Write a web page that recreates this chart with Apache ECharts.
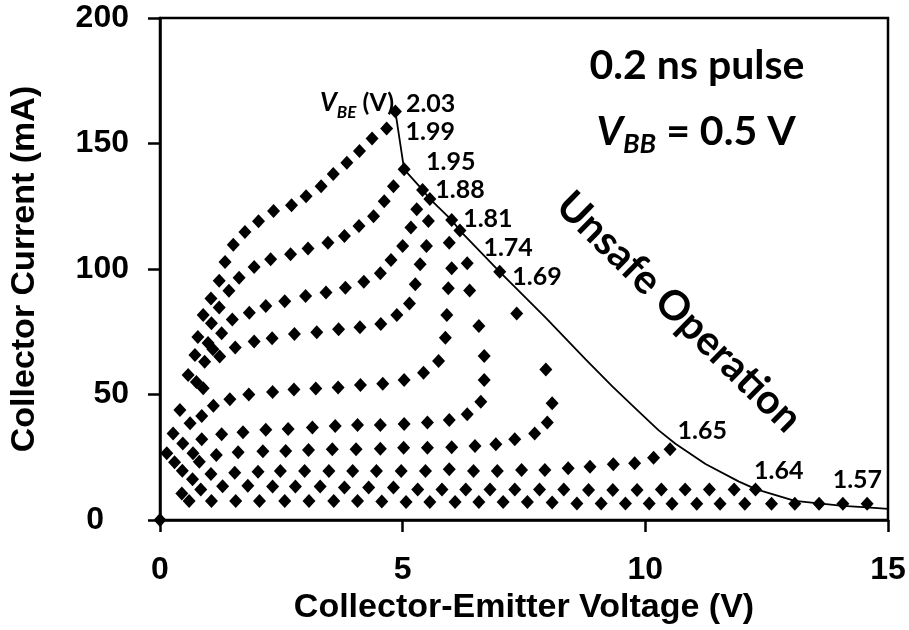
<!DOCTYPE html>
<html>
<head>
<meta charset="utf-8">
<script src="https://cdn.jsdelivr.net/npm/echarts/dist/echarts.min.js"></script>
<style>
  html, body { margin: 0; padding: 0; background: #fff; }
  #chart { width: 909px; height: 630px; }
</style>
</head>
<body>
<div id="chart"></div>
<script>
// Axis ticks
const xTicks = [0, 5, 10, 15];
const yTicks = [0, 50, 100, 150, 200];

// Base-emitter bias of each pulsed I-V curve (V)
const vbeLabels = ['2.03', '1.99', '1.95', '1.88', '1.81', '1.74', '1.69', '1.65', '1.64', '1.57'];

// Collector-emitter voltage (V) and collector current (mA), one pair per bias
const vce203 = [0.72, 0.78, 0.89, 1.05, 1.22, 1.34, 1.51, 1.75, 2.03, 2.34, 2.71, 3.01, 3.32, 3.57, 3.85, 4.11, 4.37, 4.67, 4.85];
const ic203  = [65.7, 72.9, 81.7, 88.2, 95.3, 102.8, 109.7, 114.7, 119.0, 123.1, 125.4, 129.0, 133.0, 137.8, 142.3, 147.0, 152.0, 156.0, 162.7];

const vce199 = [0.92, 0.99, 1.06, 1.22, 1.42, 1.63, 1.94, 2.28, 2.69, 3.05, 3.46, 3.80, 4.10, 4.40, 4.62, 4.81, 5.03];
const ic199  = [63.0, 70.5, 78.4, 84.7, 91.3, 96.5, 100.8, 103.9, 105.9, 108.2, 110.5, 113.1, 117.1, 121.0, 127.0, 133.0, 139.7];

const vce195 = [1.27, 1.49, 1.84, 2.18, 2.57, 3.00, 3.42, 3.82, 4.20, 4.54, 4.76, 5.00, 5.17, 5.29, 5.41];
const ic195  = [74.4, 79.9, 82.6, 85.3, 87.2, 89.2, 90.6, 92.5, 94.9, 98.3, 103.6, 109.2, 116.5, 123.8, 131.5];

const vce188 = [1.09, 1.23, 1.55, 1.94, 2.31, 2.77, 3.23, 3.68, 4.12, 4.55, 4.88, 5.14, 5.26, 5.36, 5.49, 5.53, 5.56];
const ic188  = [68.0, 65.1, 68.7, 71.1, 72.4, 74.1, 74.8, 76.0, 76.8, 78.1, 81.7, 86.3, 93.9, 101.9, 109.2, 119.1, 127.9];

const vce181 = [0.58, 0.75, 0.89, 1.10, 1.44, 1.83, 2.32, 2.76, 3.21, 3.67, 4.13, 4.59, 5.03, 5.43, 5.74, 5.88, 5.91, 5.94, 6.01, 5.96, 6.01];
const ic181  = [57.8, 55.0, 52.5, 45.5, 48.1, 50.0, 51.0, 52.0, 52.4, 52.8, 53.8, 54.3, 55.8, 58.7, 63.3, 72.6, 81.7, 92.3, 100.3, 110.5, 119.5];

const vce174 = [0.41, 0.62, 0.86, 0.86, 1.27, 1.71, 2.18, 2.64, 3.14, 3.61, 4.07, 4.54, 5.03, 5.51, 5.96, 6.33, 6.61, 6.68, 6.68, 6.57, 6.38, 6.33, 6.18];
const ic174  = [43.8, 38.5, 41.4, 32.2, 34.2, 35.0, 36.0, 36.3, 36.9, 37.5, 37.8, 37.8, 38.2, 38.8, 39.8, 42.1, 47.1, 55.8, 65.3, 77.3, 91.4, 102.3, 115.3];

const vce169 = [0.27, 0.47, 0.68, 0.81, 1.16, 1.61, 2.12, 2.59, 3.06, 3.55, 4.04, 4.54, 5.02, 5.51, 6.01, 6.49, 6.92, 7.31, 7.72, 7.98, 8.08, 7.95, 7.35, 7.00];
const ic169  = [34.5, 30.5, 26.6, 23.2, 25.9, 27.0, 27.4, 27.5, 27.9, 28.2, 28.2, 28.4, 28.8, 28.8, 29.0, 29.5, 30.2, 32.2, 34.5, 38.8, 46.5, 60.0, 82.3, 98.9];

const vce165 = [0.14, 0.30, 0.46, 1.05, 1.54, 2.02, 2.48, 2.98, 3.48, 3.97, 4.46, 4.97, 5.47, 5.96, 6.46, 6.95, 7.45, 7.93, 8.41, 8.86, 9.34, 9.78, 10.17, 10.51];
const ic165  = [26.6, 23.0, 19.6, 18.3, 18.8, 19.2, 19.5, 19.5, 19.5, 19.5, 19.5, 19.5, 19.5, 20.2, 19.5, 19.5, 19.9, 19.9, 20.6, 21.2, 22.2, 22.6, 24.8, 28.2];

const vce164 = [0.67, 0.84, 1.29, 1.81, 2.32, 2.79, 3.30, 3.80, 4.30, 4.81, 5.31, 5.81, 6.30, 6.80, 7.31, 7.82, 8.32, 8.83, 9.33, 9.83, 10.33, 10.82, 11.32, 11.83, 12.27];
const ic164  = [16.2, 12.2, 13.4, 13.6, 13.3, 13.3, 13.3, 12.9, 12.9, 12.9, 12.2, 12.2, 12.2, 12.2, 12.2, 12.2, 12.2, 12.0, 12.0, 12.0, 12.2, 12.2, 12.2, 12.2, 12.2];

const vce157 = [0, 0.45, 0.60, 1.06, 1.56, 2.05, 2.57, 3.07, 3.58, 4.07, 4.57, 5.07, 5.56, 6.08, 6.57, 7.07, 7.57, 8.08, 8.59, 9.09, 9.59, 10.08, 10.55, 11.06, 11.54, 12.05, 12.60, 13.08, 13.58, 14.07, 14.57];
const ic157  = [0, 10.6, 7.6, 7.6, 7.6, 7.6, 7.6, 7.6, 7.6, 7.6, 7.4, 7.2, 7.2, 7.2, 7.2, 7.2, 7.2, 7.0, 6.6, 6.6, 6.6, 6.6, 6.5, 6.5, 6.5, 6.5, 6.5, 6.5, 6.5, 6.5, 6.5];

// Safe-operating boundary through the end point of each curve
const boundaryV = [4.85, 5.03, 5.41, 5.56, 6.01, 6.18, 7.00, 7.95, 8.77, 9.32, 9.86, 10.27, 10.62, 11.24, 11.93, 12.29, 13.08, 14.07, 14.57, 15.0];
const boundaryI = [162.7, 139.7, 131.5, 127.9, 119.5, 115.3, 98.9, 80.5, 64.0, 53.2, 43.3, 35.8, 30.4, 22.3, 15.3, 12.2, 7.6, 5.6, 5.0, 4.4];

const curveV = [vce203, vce199, vce195, vce188, vce181, vce174, vce169, vce165, vce164, vce157];
const curveI = [ic203, ic199, ic195, ic188, ic181, ic174, ic169, ic165, ic164, ic157];

// Where each bias label sits relative to its curve's last point (px)
const labelShift = [[-1, -8], [-10, -37], [-8, -28], [-6, -9], [0, -1], [12, 17], [1, 5], [-4, -18], [-13, -18], [-46, -24]];

const AXIS_FONT = '"Liberation Sans", Arial, Helvetica, sans-serif';
const NOTE_FONT = 'Lato, "Open Sans", "Noto Sans", sans-serif';

const curveSeries = curveV.map((vs, k) => {
  const is = curveI[k];
  const data = vs.map((v, j) => {
    const item = { value: [v, is[j]] };
    if (j === vs.length - 1) {
      item.label = {
        show: true,
        formatter: vbeLabels[k],
        position: 'right',
        distance: 5,
        offset: labelShift[k],
        color: '#000',
        opacity: 1,
        fontFamily: NOTE_FONT,
        fontWeight: 'bold',
        fontSize: 25
      };
    }
    return item;
  });
  return {
    name: 'VBE ' + vbeLabels[k],
    type: 'scatter',
    symbol: 'diamond',
    symbolSize: [13, 14],
    clip: false,
    itemStyle: { color: '#000', opacity: 1 },
    emphasis: { disabled: true },
    z: 3,
    data: data
  };
});

const boundarySeries = {
  name: 'boundary',
  type: 'line',
  symbol: 'none',
  smooth: false,
  lineStyle: { color: '#000', width: 1.8, opacity: 1 },
  z: 2,
  data: boundaryV.map((v, j) => [v, boundaryI[j]])
};

const tickFont = { fontFamily: AXIS_FONT, fontWeight: 'bold', fontSize: 32, color: '#000' };

const chart = echarts.init(document.getElementById('chart'), null, { renderer: 'canvas' });

chart.setOption({
  animation: false,
  backgroundColor: '#fff',
  grid: {
    left: 160, right: 21, top: 18, bottom: 110,
    containLabel: false,
    outerBoundsMode: 'none',
    show: true,
    borderColor: '#000',
    borderWidth: 2.5
  },
  xAxis: {
    type: 'value',
    min: xTicks[0], max: xTicks[xTicks.length - 1], interval: xTicks[1] - xTicks[0],
    axisLine: { show: true, onZero: false, lineStyle: { color: '#000', width: 2.5 } },
    axisTick: { show: true, inside: false, length: 12, lineStyle: { color: '#000', width: 2.5 } },
    splitLine: { show: false },
    axisLabel: Object.assign({ margin: 34 }, tickFont),
    name: 'Collector-Emitter Voltage (V)',
    nameLocation: 'middle',
    nameGap: 63,
    nameTextStyle: { color: '#000', fontFamily: AXIS_FONT, fontWeight: 'bold', fontSize: 34 }
  },
  yAxis: {
    type: 'value',
    min: yTicks[0], max: yTicks[yTicks.length - 1], interval: yTicks[1] - yTicks[0],
    axisLine: { show: true, onZero: false, lineStyle: { color: '#000', width: 2.5 } },
    axisTick: { show: true, inside: false, length: 12, lineStyle: { color: '#000', width: 2.5 } },
    splitLine: { show: false },
    axisLabel: Object.assign({
      margin: 31,
      // the zero label sits a little further out than the others
      formatter: (val) => (val === 0 ? '{z|0}' : String(val)),
      rich: { z: Object.assign({ padding: [0, 25, 0, 0] }, tickFont) }
    }, tickFont),
    name: 'Collector Current (mA)',
    nameLocation: 'middle',
    nameGap: 118,
    nameTextStyle: { color: '#000', fontFamily: AXIS_FONT, fontWeight: 'bold', fontSize: 34 }
  },
  series: [boundarySeries].concat(curveSeries),
  graphic: [
    {
      type: 'text', x: 320, y: 103, z: 10,
      style: {
        text: '{v|V}{s|BE}{n| (V)}',
        fill: '#000',
        align: 'left', verticalAlign: 'middle',
        rich: {
          v: { fontFamily: NOTE_FONT, fontWeight: 'bold', fontStyle: 'italic', fontSize: 26, fill: '#000' },
          s: { fontFamily: NOTE_FONT, fontWeight: 'bold', fontStyle: 'italic', fontSize: 17, fill: '#000', padding: [20, 0, 0, 0] },
          n: { fontFamily: NOTE_FONT, fontWeight: 'bold', fontSize: 25, fill: '#000' }
        }
      }
    },
    {
      type: 'text', x: 697, y: 66, z: 10,
      style: {
        text: '0.2 ns pulse',
        fill: '#000',
        font: 'bold 41px ' + NOTE_FONT,
        align: 'center', verticalAlign: 'middle'
      }
    },
    {
      type: 'text', x: 696, y: 132, z: 10,
      style: {
        text: '{v|V}{s|BB}{n| = 0.5 V}',
        fill: '#000',
        align: 'center', verticalAlign: 'middle',
        rich: {
          v: { fontFamily: NOTE_FONT, fontWeight: 'bold', fontStyle: 'italic', fontSize: 41, fill: '#000' },
          s: { fontFamily: NOTE_FONT, fontWeight: 'bold', fontStyle: 'italic', fontSize: 27, fill: '#000', padding: [24, 0, 0, 0] },
          n: { fontFamily: NOTE_FONT, fontWeight: 'bold', fontSize: 41, fill: '#000' }
        }
      }
    },
    {
      type: 'text', x: 679, y: 312, z: 10,
      rotation: -Math.PI * 44.4 / 180,
      style: {
        text: 'Unsafe Operation',
        fill: '#000',
        font: 'bold 41px ' + NOTE_FONT,
        align: 'center', verticalAlign: 'middle'
      }
    }
  ]
});
</script>
</body>
</html>
